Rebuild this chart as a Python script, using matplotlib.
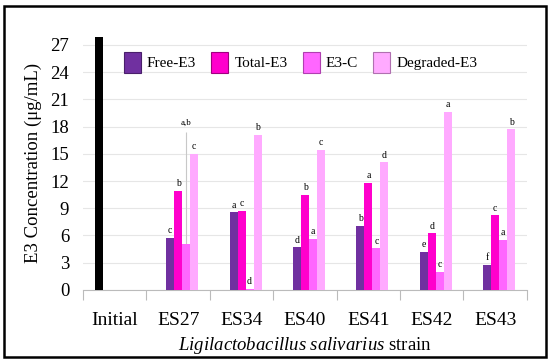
import numpy as np
import matplotlib.pyplot as plt
from matplotlib.patches import Rectangle

# data
strains = ['Initial', 'ES27', 'ES34', 'ES40', 'ES41', 'ES42', 'ES43']
initial_e3 = 27.9
free_e3 = [5.76, 8.56, 4.70, 7.09, 4.22, 2.72]
total_e3 = [10.9, 8.74, 10.47, 11.83, 6.24, 8.23]
e3_c = [5.07, 0.1, 5.62, 4.59, 2.02, 5.51]
degraded_e3 = [15.0, 17.08, 15.43, 14.07, 19.65, 17.7]

free_letters = ['c', 'a', 'd', 'b', 'e', 'f']
total_letters = ['b', 'c', 'b', 'a', 'd', 'c']
e3c_letters = ['a,b', 'd', 'a', 'c', 'c', 'a']
degraded_letters = ['c', 'b', 'c', 'd', 'a', 'b']
es27_e3c_err_top = 17.4

series_names = ['Free-E3', 'Total-E3', 'E3-C', 'Degraded-E3']
colors = ['#7030A0', '#FF00CC', '#FF66FF', '#FFAAFF']
edge_colors = ['#4a1f6b', '#a0007f', '#b03fb0', '#b070b0']

plt.rcParams['font.family'] = ['Liberation Serif', 'DejaVu Serif']
plt.rcParams['mathtext.fontset'] = 'custom'
plt.rcParams['mathtext.rm'] = 'Liberation Serif'
plt.rcParams['mathtext.it'] = 'Liberation Serif:italic'

fig = plt.figure(figsize=(5.5, 3.61), dpi=100)
ax = fig.add_axes([0.151, 0.197, 0.807, 0.7035])

w = 0.126
x = np.arange(len(strains))
offsets = (np.arange(5) - 2) * w

ax.bar(x[0] + offsets[0], initial_e3, w, color='black', zorder=3)

all_vals = [free_e3, total_e3, e3_c, degraded_e3]
all_letters = [free_letters, total_letters, e3c_letters, degraded_letters]
for i, (vals, lets) in enumerate(zip(all_vals, all_letters)):
    xs = x[1:] + offsets[i + 1]
    ax.bar(xs, vals, w, color=colors[i], zorder=3)
    for j, (xx, v, t) in enumerate(zip(xs, vals, lets)):
        if i == 2 and j == 0:
            ax.vlines(xx, v, es27_e3c_err_top, color='#c8c8c8', lw=0.8, zorder=2)
            ax.text(xx, es27_e3c_err_top + 0.6, t, ha='center', va='bottom', fontsize=6.5)
        else:
            ax.text(xx, v + 0.3, t, ha='center', va='bottom', fontsize=7)

ax.set_xlim(-0.5, len(strains) - 0.5)
ax.set_ylim(0, 28)
ax.set_yticks(np.arange(0, 28, 3))
ax.tick_params(axis='y', length=0, labelsize=13.5, pad=10)
ax.set_xticks(x)
ax.set_xticklabels(strains, fontsize=14)
ax.set_xticks(np.arange(-0.5, len(strains), 1), minor=True)
ax.tick_params(axis='x', which='major', length=0, pad=16)
ax.tick_params(axis='x', which='minor', length=7, color='#bbbbbb', width=0.8)
ax.grid(axis='y', color='#e6e6e6', lw=0.8, zorder=0)
for s in ['top', 'right', 'left']:
    ax.spines[s].set_visible(False)
ax.spines['bottom'].set_color('#bbbbbb')
ax.spines['bottom'].set_linewidth(0.8)

ax.set_ylabel('E3 Concentration (\u03bcg/mL)', fontsize=13.5, labelpad=6)
ax.set_xlabel(r'$\it{Ligilactobacillus\ salivarius}$ strain', fontsize=13.5, labelpad=4)

handles = [Rectangle((0, 0), 1, 1, facecolor=c, edgecolor=e, lw=0.8)
           for c, e in zip(colors, edge_colors)]
ax.legend(handles, series_names, loc='upper center', bbox_to_anchor=(0.49, 0.99),
          ncol=4, frameon=False, fontsize=11, handlelength=1.1, handleheight=1.7,
          columnspacing=1.0, handletextpad=0.4)

fig.patches.append(Rectangle((0.008, 0.012), 0.984, 0.972, transform=fig.transFigure,
                             fill=False, edgecolor='black', lw=1.8))

fig.savefig('out.png', dpi=100)
